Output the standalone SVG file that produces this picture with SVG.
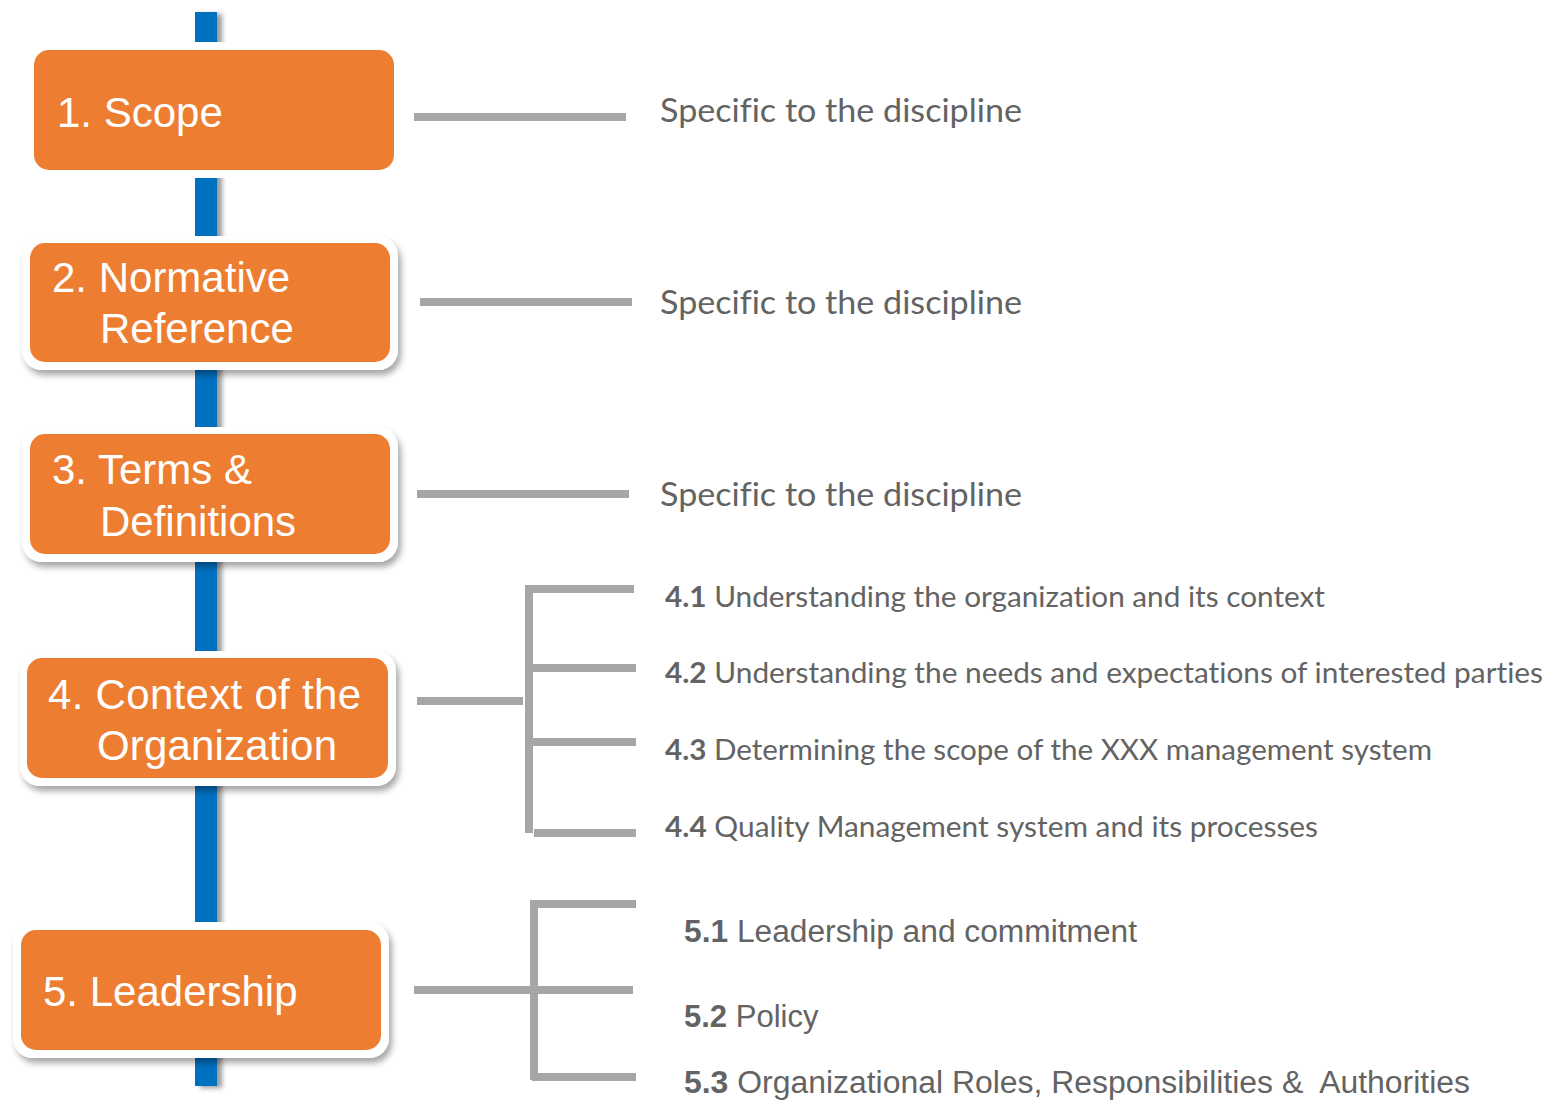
<svg xmlns="http://www.w3.org/2000/svg" width="1550" height="1100" viewBox="0 0 1550 1100">
<defs>
<filter id="sh" x="-10%" y="-10%" width="130%" height="140%">
<feDropShadow dx="3" dy="5" stdDeviation="3" flood-color="#000" flood-opacity="0.35"/>
</filter>
<filter id="lsh" x="-50%" y="-5%" width="250%" height="110%">
<feDropShadow dx="5" dy="2" stdDeviation="2.5" flood-color="#000" flood-opacity="0.4"/>
</filter>
</defs>
<style>
.frame{fill:#fff}
.box{fill:#ED7D31}
.bt{font-family:"Liberation Sans",Arial,sans-serif;font-size:42px;fill:#fff}
.ln{stroke:#A6A6A6;stroke-width:8;fill:none}
.sp{font-family:Lato,"Open Sans",sans-serif;font-size:33px;fill:#636363;font-variant-ligatures:none}
.s4{font-family:Lato,"Open Sans",sans-serif;font-size:28px;fill:#636363;font-variant-ligatures:none}
.s5{font-family:"Liberation Sans",Arial,sans-serif;font-size:31px;fill:#636363;white-space:pre}
.b{font-weight:bold}
</style>
<g id="spine">
<rect x="195" y="12" width="22" height="1074" fill="#0070C0" filter="url(#lsh)"/>
</g>
<g id="node1">
<rect class="frame" x="27" y="42" width="374" height="136" rx="20"/>
<rect class="box" x="34" y="50" width="360" height="120" rx="15"/>
<text class="bt" x="57" y="127">1. Scope</text>
</g>
<g id="node2">
<rect class="frame" x="22" y="236" width="376" height="134" rx="20" filter="url(#sh)"/>
<rect class="box" x="30" y="243" width="360" height="119" rx="15"/>
<text class="bt" x="52" y="292">2. Normative</text>
<text class="bt" x="100" y="343">Reference</text>
</g>
<g id="node3">
<rect class="frame" x="22" y="427" width="376" height="135" rx="20" filter="url(#sh)"/>
<rect class="box" x="30" y="434" width="360" height="120" rx="15"/>
<text class="bt" x="52" y="484">3. Terms &amp;</text>
<text class="bt" x="100" y="536">Definitions</text>
</g>
<g id="node4">
<rect class="frame" x="20" y="651" width="376" height="135" rx="20" filter="url(#sh)"/>
<rect class="box" x="27" y="658" width="361" height="120" rx="15"/>
<text class="bt" x="48" y="709" textLength="313" lengthAdjust="spacing">4. Context of the</text>
<text class="bt" x="97" y="760" textLength="240" lengthAdjust="spacing">Organization</text>
</g>
<g id="node5">
<rect class="frame" x="13" y="922" width="376" height="136" rx="20" filter="url(#sh)"/>
<rect class="box" x="21" y="930" width="360" height="120" rx="15"/>
<text class="bt" x="43" y="1006">5. Leadership</text>
</g>
<g id="connectors">
<line class="ln" x1="414" y1="117" x2="626" y2="117"/>
<line class="ln" x1="420" y1="302" x2="632" y2="302"/>
<line class="ln" x1="417" y1="494" x2="629" y2="494"/>
<line class="ln" x1="417" y1="701" x2="523" y2="701"/>
<line class="ln" x1="529" y1="585" x2="529" y2="833"/>
<line class="ln" x1="528" y1="589" x2="634" y2="589"/>
<line class="ln" x1="530" y1="668" x2="636" y2="668"/>
<line class="ln" x1="530" y1="742" x2="636" y2="742"/>
<line class="ln" x1="534" y1="833" x2="636" y2="833"/>
<line class="ln" x1="414" y1="990" x2="633" y2="990"/>
<line class="ln" x1="534" y1="901" x2="534" y2="1080"/>
<line class="ln" x1="530" y1="904" x2="636" y2="904"/>
<line class="ln" x1="532" y1="1077" x2="636" y2="1077"/>
</g>
<g id="labels">
<text class="sp" x="660" y="122" textLength="362" lengthAdjust="spacingAndGlyphs">Specific to the discipline</text>
<text class="sp" x="660" y="314" textLength="362" lengthAdjust="spacingAndGlyphs">Specific to the discipline</text>
<text class="sp" x="660" y="506" textLength="362" lengthAdjust="spacingAndGlyphs">Specific to the discipline</text>
<text class="s4" x="665" y="607" textLength="660" lengthAdjust="spacingAndGlyphs"><tspan class="b">4.1</tspan> Understanding the organization and its context</text>
<text class="s4" x="665" y="683" textLength="878" lengthAdjust="spacingAndGlyphs"><tspan class="b">4.2</tspan> Understanding the needs and expectations of interested parties</text>
<text class="s4" x="665" y="760" textLength="767" lengthAdjust="spacingAndGlyphs"><tspan class="b">4.3</tspan> Determining the scope of the XXX management system</text>
<text class="s4" x="665" y="837" textLength="653" lengthAdjust="spacingAndGlyphs"><tspan class="b">4.4</tspan> Quality Management system and its processes</text>
<text class="s5" x="684" y="942" textLength="453" lengthAdjust="spacingAndGlyphs"><tspan class="b">5.1</tspan> Leadership and commitment</text>
<text class="s5" x="684" y="1027"><tspan class="b">5.2</tspan> Policy</text>
<text class="s5" x="684" y="1093" textLength="786" lengthAdjust="spacingAndGlyphs"><tspan class="b">5.3</tspan> Organizational Roles, Responsibilities &amp;  Authorities</text>
</g>
</svg>
